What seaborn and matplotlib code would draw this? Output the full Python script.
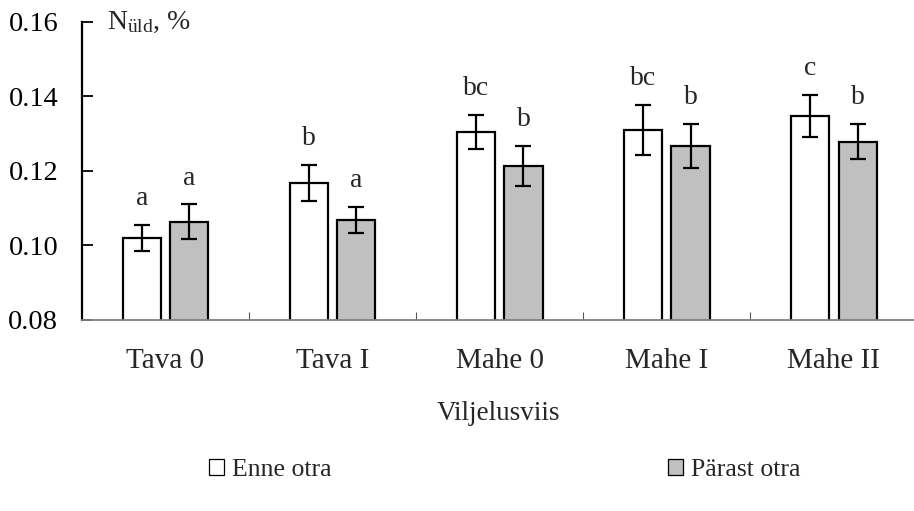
import numpy as np
import matplotlib
matplotlib.use("Agg")
import matplotlib.pyplot as plt
import seaborn as sns
import pandas as pd
from matplotlib.patches import Patch

# data
categories = ["Tava 0", "Tava I", "Mahe 0", "Mahe I", "Mahe II"]
series_names = ["Enne otra", "Pärast otra"]
enne_values = [0.1021, 0.1167, 0.1305, 0.1310, 0.1348]
enne_errors = [0.0035, 0.0048, 0.0045, 0.0068, 0.0056]
parast_values = [0.1064, 0.1068, 0.1213, 0.1267, 0.1279]
parast_errors = [0.0046, 0.0035, 0.0053, 0.0058, 0.0048]
enne_letters = ["a", "b", "bc", "bc", "c"]
parast_letters = ["a", "a", "b", "b", "b"]
y_ticks = [0.08, 0.10, 0.12, 0.14, 0.16]

sns.set_style("white")
plt.rcParams.update({
    "font.family": ["Liberation Serif", "DejaVu Serif"],
    "font.size": 20,
    "mathtext.fontset": "custom",
    "mathtext.rm": "Liberation Serif",
    "mathtext.it": "Liberation Serif:italic",
})

df = pd.DataFrame({
    "Viljelusviis": categories * 2,
    "series": [series_names[0]] * 5 + [series_names[1]] * 5,
    "value": enne_values + parast_values,
})

fig = plt.figure(figsize=(9.14, 5.11), dpi=100)
ax = fig.add_axes([0.0897, 0.374, 0.9103, 0.583])

colors = {"Enne otra": "white", "Pärast otra": "#C0C0C0"}
sns.barplot(data=df, x="Viljelusviis", y="value", hue="series",
            palette=colors, width=0.57, gap=0.2, errorbar=None,
            edgecolor="black", linewidth=1.6, legend=False, ax=ax)

# error bars and significance letters above each bar
errs = enne_errors + parast_errors
letters = enne_letters + parast_letters
vals = enne_values + parast_values
for i, patch in enumerate(ax.patches[:10]):
    xc = patch.get_x() + patch.get_width() / 2
    ax.errorbar(xc, vals[i], yerr=errs[i], color="black", capsize=6,
                capthick=1.6, elinewidth=1.6, zorder=5)
    ax.annotate(letters[i], (xc, vals[i] + errs[i]), xytext=(0, 10),
                textcoords="offset points", ha="center", va="bottom",
                fontsize=20)

ax.set_ylim(0.08, 0.16)
ax.set_xlim(-0.5, 4.48)
ax.set_yticks(y_ticks)
ax.set_yticklabels([f"{t:.2f}" for t in y_ticks])
ax.set_xticks(range(len(categories)))
ax.set_xticks([0.5, 1.5, 2.5, 3.5], minor=True)
ax.tick_params(axis="y", direction="in", length=8, width=1.3, pad=17,
               left=True, labelsize=20.5, colors="black")
ax.tick_params(axis="x", which="major", length=0, pad=20, labelsize=21)
ax.tick_params(axis="x", which="minor", direction="in", length=6,
               width=0.8, bottom=True, color="#555555")

for s in ["top", "right"]:
    ax.spines[s].set_visible(False)
ax.spines["left"].set_color("black")
ax.spines["left"].set_linewidth(1.6)
ax.spines["bottom"].set_color("#808080")
ax.spines["bottom"].set_linewidth(1.3)

ax.set_xlabel("Viljelusviis", fontsize=19.5, labelpad=20)
ax.set_ylabel("")
ax.text(0.03, 1.0, r"N$_{\mathrm{üld}}$, %", transform=ax.transAxes,
        ha="left", va="center", fontsize=20)

handles = [Patch(facecolor=colors[n], edgecolor="black", linewidth=0.9, label=n)
           for n in series_names]
fig.legend(handles=handles, loc="center", bbox_to_anchor=(0.552, 0.08),
           ncol=2, frameon=False, handlelength=0.6, handleheight=0.6,
           handletextpad=0.3, columnspacing=13.1, fontsize=18.5)

fig.savefig("out.png", dpi=100)
